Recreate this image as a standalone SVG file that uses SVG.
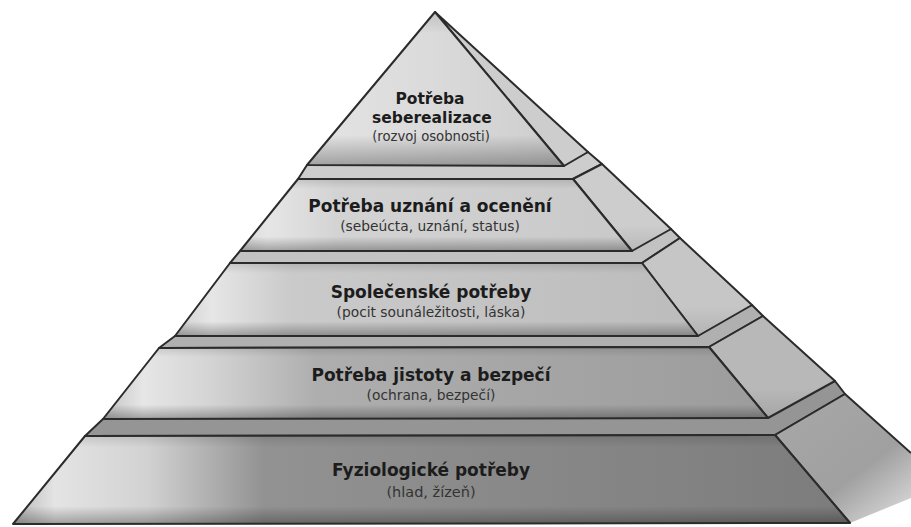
<svg xmlns="http://www.w3.org/2000/svg" width="911" height="527" viewBox="0 0 911 527">
<defs>
<style>
.edge{stroke:#2b2b2b;stroke-width:2;stroke-linejoin:round}
.title{font-family:"DejaVu Sans","Liberation Sans",sans-serif;font-weight:bold;font-size:17px;fill:#1c1c1c;text-anchor:middle}
.top{font-size:15.5px}
.sub{font-family:"DejaVu Sans","Liberation Sans",sans-serif;font-size:13.8px;fill:#333;text-anchor:middle}
</style>
<linearGradient id="shade" x1="0" y1="0" x2="0" y2="1">
<stop offset="0" stop-color="#000" stop-opacity="0.12"/>
<stop offset="0.14" stop-color="#000" stop-opacity="0"/>
<stop offset="0.8" stop-color="#000" stop-opacity="0"/>
<stop offset="1" stop-color="#000" stop-opacity="0.3"/>
</linearGradient>
<linearGradient id="f1" x1="0" y1="0" x2="1" y2="0">
<stop offset="0" stop-color="#e4e4e4"/>
<stop offset="0.5" stop-color="#dadada"/>
<stop offset="1" stop-color="#cdcdcd"/>
</linearGradient>
<linearGradient id="f2" x1="0" y1="0" x2="1" y2="0">
<stop offset="0" stop-color="#d6d6d6"/>
<stop offset="0.07" stop-color="#e6e6e6"/>
<stop offset="0.25" stop-color="#d3d3d3"/>
<stop offset="1" stop-color="#c9c9c9"/>
</linearGradient>
<linearGradient id="f3" x1="0" y1="0" x2="1" y2="0">
<stop offset="0" stop-color="#cfcfcf"/>
<stop offset="0.07" stop-color="#e6e6e6"/>
<stop offset="0.22" stop-color="#cacaca"/>
<stop offset="1" stop-color="#bcbcbc"/>
</linearGradient>
<linearGradient id="f4" x1="0" y1="0" x2="1" y2="0">
<stop offset="0" stop-color="#c4c4c4"/>
<stop offset="0.06" stop-color="#e6e6e6"/>
<stop offset="0.16" stop-color="#d4d4d4"/>
<stop offset="0.32" stop-color="#aeaeae"/>
<stop offset="1" stop-color="#9c9c9c"/>
</linearGradient>
<linearGradient id="f5" x1="0" y1="0" x2="1" y2="0">
<stop offset="0" stop-color="#b8b8b8"/>
<stop offset="0.05" stop-color="#e4e4e4"/>
<stop offset="0.16" stop-color="#d2d2d2"/>
<stop offset="0.3" stop-color="#929292"/>
<stop offset="1" stop-color="#7c7c7c"/>
</linearGradient>
<linearGradient id="s5" x1="0" y1="0" x2="1" y2="1">
<stop offset="0" stop-color="#a8a8a8"/>
<stop offset="0.55" stop-color="#a0a0a0"/>
<stop offset="0.85" stop-color="#d8d8d8"/>
<stop offset="1" stop-color="#ffffff"/>
</linearGradient>
<linearGradient id="sideg" x1="0" y1="0" x2="0" y2="1">
<stop offset="0" stop-color="#000" stop-opacity="0"/>
<stop offset="0.7" stop-color="#000" stop-opacity="0"/>
<stop offset="1" stop-color="#000" stop-opacity="0.1"/>
</linearGradient>
</defs>
<rect width="911" height="527" fill="#ffffff"/>

<g id="tier5">
<polygon points="85,436 775,435 845,394 835,381 103,419" fill="#959595" class="edge"/>
<polygon points="775,435 845,394 945,484 850,523" fill="url(#s5)"/>
<polyline points="775,435 845,394 911,453" fill="none" class="edge"/>
<line x1="775" y1="435" x2="850" y2="523" class="edge"/>
<polygon points="85,436 775,435 850,523 13,524" fill="url(#f5)"/>
<polygon points="85,436 775,435 850,523 13,524" fill="url(#shade)" class="edge"/>
<text class="title" x="431" y="476">Fyziologické potřeby</text>
<text class="sub" x="431" y="497" style="font-size:14.5px">(hlad, žízeň)</text>
</g>

<g id="tier4">
<polygon points="159,348 709,347 763,316 752,305 175,336" fill="#b0b0b0" class="edge"/>
<polygon points="709,347 763,316 835,381 768,418" fill="#b8b8b8" class="edge"/>
<polygon points="709,347 763,316 835,381 768,418" fill="url(#sideg)"/>
<polygon points="159,348 709,347 768,418 103,419" fill="url(#f4)"/>
<polygon points="159,348 709,347 768,418 103,419" fill="url(#shade)" class="edge"/>
<text class="title" x="431" y="381">Potřeba jistoty a bezpečí</text>
<text class="sub" x="431" y="400">(ochrana, bezpečí)</text>
</g>

<g id="tier3">
<polygon points="230,263 642,263 680,238 671,229 240,251" fill="#c2c2c2" class="edge"/>
<polygon points="642,263 680,238 752,305 698,336" fill="#c6c6c6" class="edge"/>
<polygon points="642,263 680,238 752,305 698,336" fill="url(#sideg)"/>
<polygon points="230,263 642,263 698,336 175,336" fill="url(#f3)"/>
<polygon points="230,263 642,263 698,336 175,336" fill="url(#shade)" class="edge"/>
<text class="title" x="431" y="298">Společenské potřeby</text>
<text class="sub" x="431" y="317">(pocit sounáležitosti, láska)</text>
</g>

<g id="tier2">
<polygon points="298,179 573,179 602,164 588,152 307,165" fill="#cdcdcd" class="edge"/>
<polygon points="573,179 602,164 671,229 632,251" fill="#cdcdcd" class="edge"/>
<polygon points="573,179 602,164 671,229 632,251" fill="url(#sideg)"/>
<polygon points="298,179 573,179 632,251 240,251" fill="url(#f2)"/>
<polygon points="298,179 573,179 632,251 240,251" fill="url(#shade)" class="edge"/>
<text class="title" x="430" y="212">Potřeba uznání a ocenění</text>
<text class="sub" x="430" y="231">(sebeúcta, uznání, status)</text>
</g>

<g id="tier1">
<polygon points="435,12 588,152 564,166" fill="#cdcdcd" class="edge"/>
<polygon points="435,12 564,166 307,165" fill="url(#f1)"/>
<polygon points="435,12 564,166 307,165" fill="url(#shade)" class="edge"/>
<text class="title top" x="430" y="104">Potřeba</text>
<text class="title top" x="432" y="123">seberealizace</text>
<text class="sub" x="431" y="141" style="font-size:13.2px">(rozvoj osobnosti)</text>
</g>
</svg>
